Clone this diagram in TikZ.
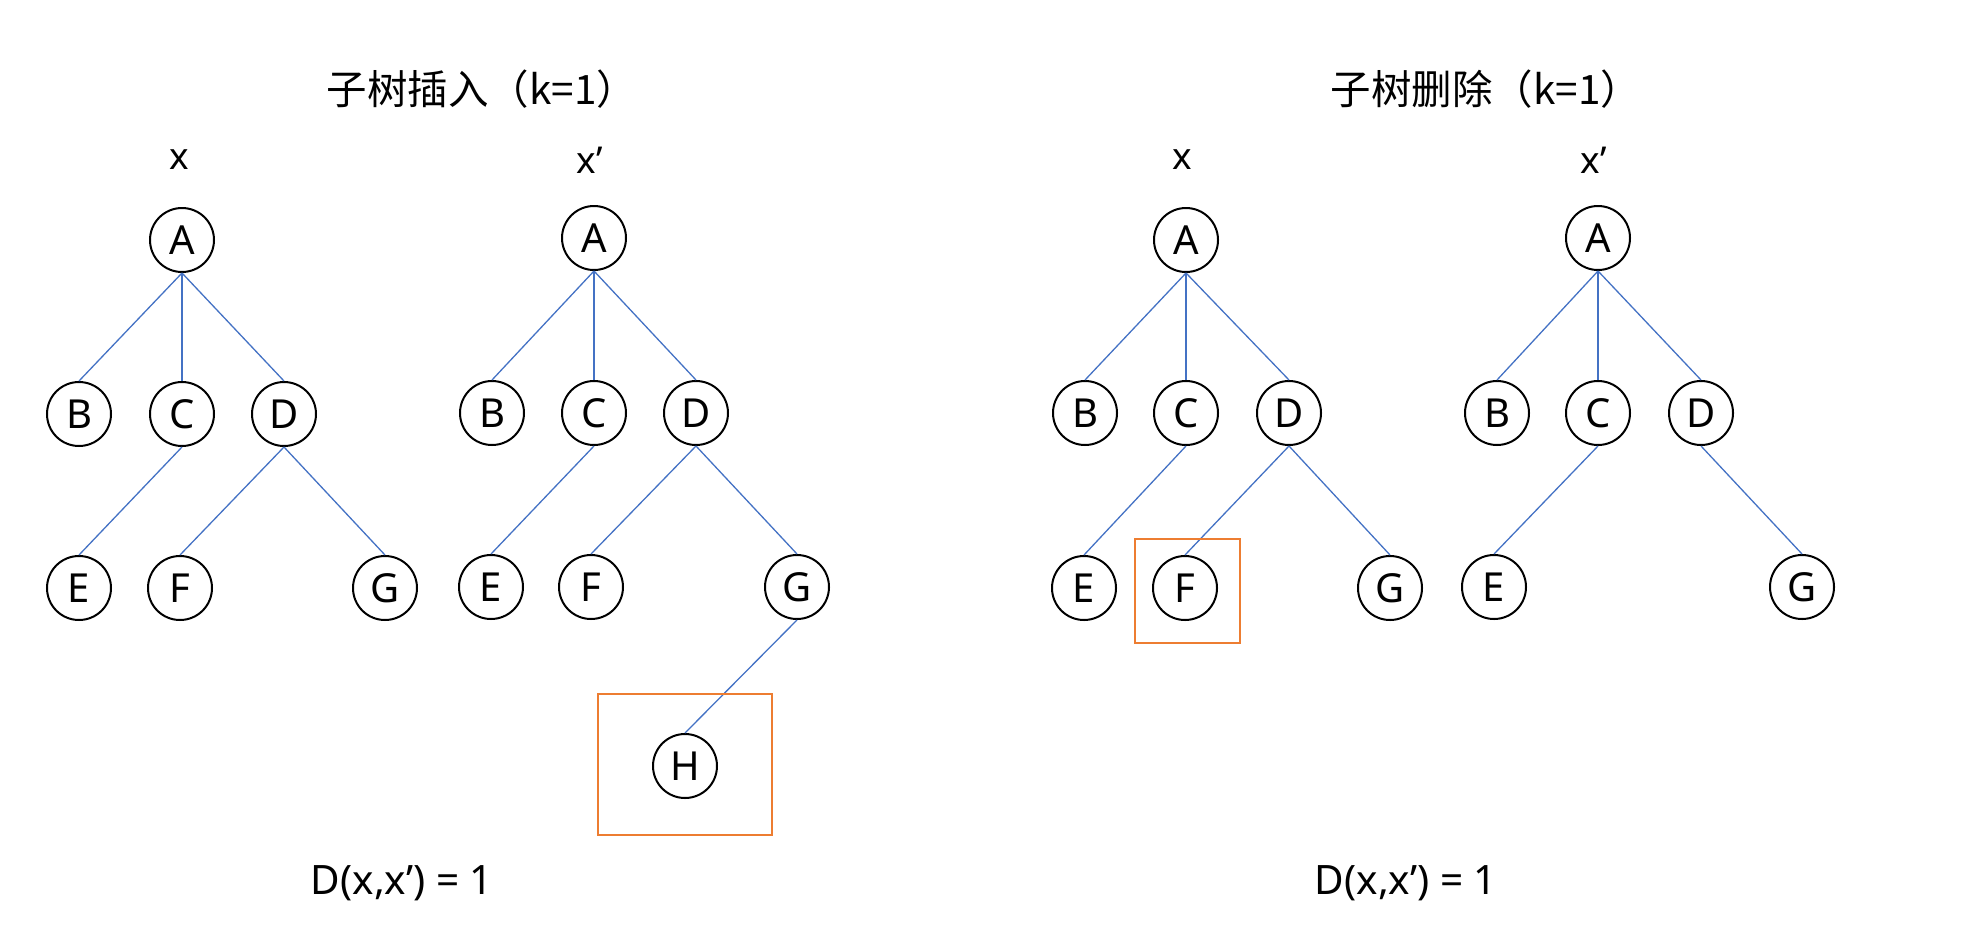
\documentclass[tikz,border=0pt]{standalone}
\usepackage{fontspec}
\setmainfont{Noto Sans}
\newfontfamily\cjkfont{Noto Sans CJK SC}
\usetikzlibrary{positioning}

\definecolor{edgeblue}{HTML}{4472C4}
\definecolor{boxorange}{HTML}{ED7D31}

\tikzset{
  tnode/.style={circle,draw=black,line width=2pt,minimum size=64pt,inner sep=0pt,
    font=\fontsize{40}{42}\selectfont},
  tedge/.style={draw=edgeblue,line width=1.3pt},
  markbox/.style={draw=boxorange,line width=2.6pt},
  tlabel/.style={font=\fontsize{37}{40}\selectfont},
  ttitle/.style={font=\cjkfont\fontsize{40.5}{46}\selectfont},
  dist/.style={font=\fontsize{40.5}{46}\selectfont}
}

\begin{document}
\begin{tikzpicture}[x=1pt,y=-1pt]

      \useasboundingbox (0,0) rectangle (1964,948);

      % titles
      \node[ttitle] (t1) at (482,89) {子树插入（k=1）};
      \node[ttitle] (t2) at (1486,89) {子树删除（k=1）};

      % tree x, insertion
      \node[tlabel] (x1) at (179,160) {x};
      \node[tnode] (a1) at (182,240) {A};
      \node[tnode] (b1) at (79,414) {B};
      \node[tnode] (c1) at (182,414) {C};
      \node[tnode] (d1) at (284,414) {D};
      \node[tnode] (e1) at (79,588) {E};
      \node[tnode] (f1) at (180,588) {F};
      \node[tnode] (g1) at (385,588) {G};

      \draw[tedge] (a1.south) -- (b1.north);
      \draw[tedge] (a1.south) -- (c1.north);
      \draw[tedge] (a1.south) -- (d1.north);
      \draw[tedge] (c1.south) -- (e1.north);
      \draw[tedge] (d1.south) -- (f1.north);
      \draw[tedge] (d1.south) -- (g1.north);

      % tree x', insertion
      \node[tlabel] (x2) at (590,160) {x’};
      \node[tnode] (a2) at (594,238) {A};
      \node[tnode] (b2) at (492,413) {B};
      \node[tnode] (c2) at (594,413) {C};
      \node[tnode] (d2) at (696,413) {D};
      \node[tnode] (e2) at (491,587) {E};
      \node[tnode] (f2) at (591,587) {F};
      \node[tnode] (g2) at (797,587) {G};
      \node[tnode] (h2) at (685,766) {H};

      \draw[tedge] (a2.south) -- (b2.north);
      \draw[tedge] (a2.south) -- (c2.north);
      \draw[tedge] (a2.south) -- (d2.north);
      \draw[tedge] (c2.south) -- (e2.north);
      \draw[tedge] (d2.south) -- (f2.north);
      \draw[tedge] (d2.south) -- (g2.north);
      \draw[tedge] (g2.south) -- (h2.north);

      \draw[markbox] (598,694) rectangle (772,835);

      \node[dist] (d12) at (402,883) {D(x,x’) = 1};

      % tree x, deletion
      \node[tlabel] (x3) at (1182,160) {x};
      \node[tnode] (a3) at (1186,240) {A};
      \node[tnode] (b3) at (1085,413) {B};
      \node[tnode] (c3) at (1186,413) {C};
      \node[tnode] (d3) at (1289,413) {D};
      \node[tnode] (e3) at (1084,588) {E};
      \node[tnode] (f3) at (1185,588) {F};
      \node[tnode] (g3) at (1390,588) {G};

      \draw[tedge] (a3.south) -- (b3.north);
      \draw[tedge] (a3.south) -- (c3.north);
      \draw[tedge] (a3.south) -- (d3.north);
      \draw[tedge] (c3.south) -- (e3.north);
      \draw[tedge] (d3.south) -- (f3.north);
      \draw[tedge] (d3.south) -- (g3.north);

      \draw[markbox] (1135,539) rectangle (1240,643);

      % tree x', deletion
      \node[tlabel] (x4) at (1594,160) {x’};
      \node[tnode] (a4) at (1598,238) {A};
      \node[tnode] (b4) at (1497,413) {B};
      \node[tnode] (c4) at (1598,413) {C};
      \node[tnode] (d4) at (1701,413) {D};
      \node[tnode] (e4) at (1494,587) {E};
      \node[tnode] (g4) at (1802,587) {G};

      \draw[tedge] (a4.south) -- (b4.north);
      \draw[tedge] (a4.south) -- (c4.north);
      \draw[tedge] (a4.south) -- (d4.north);
      \draw[tedge] (c4.south) -- (e4.north);
      \draw[tedge] (d4.south) -- (g4.north);

      \node[dist] (d34) at (1406,883) {D(x,x’) = 1};

    \end{tikzpicture}
\end{document}
